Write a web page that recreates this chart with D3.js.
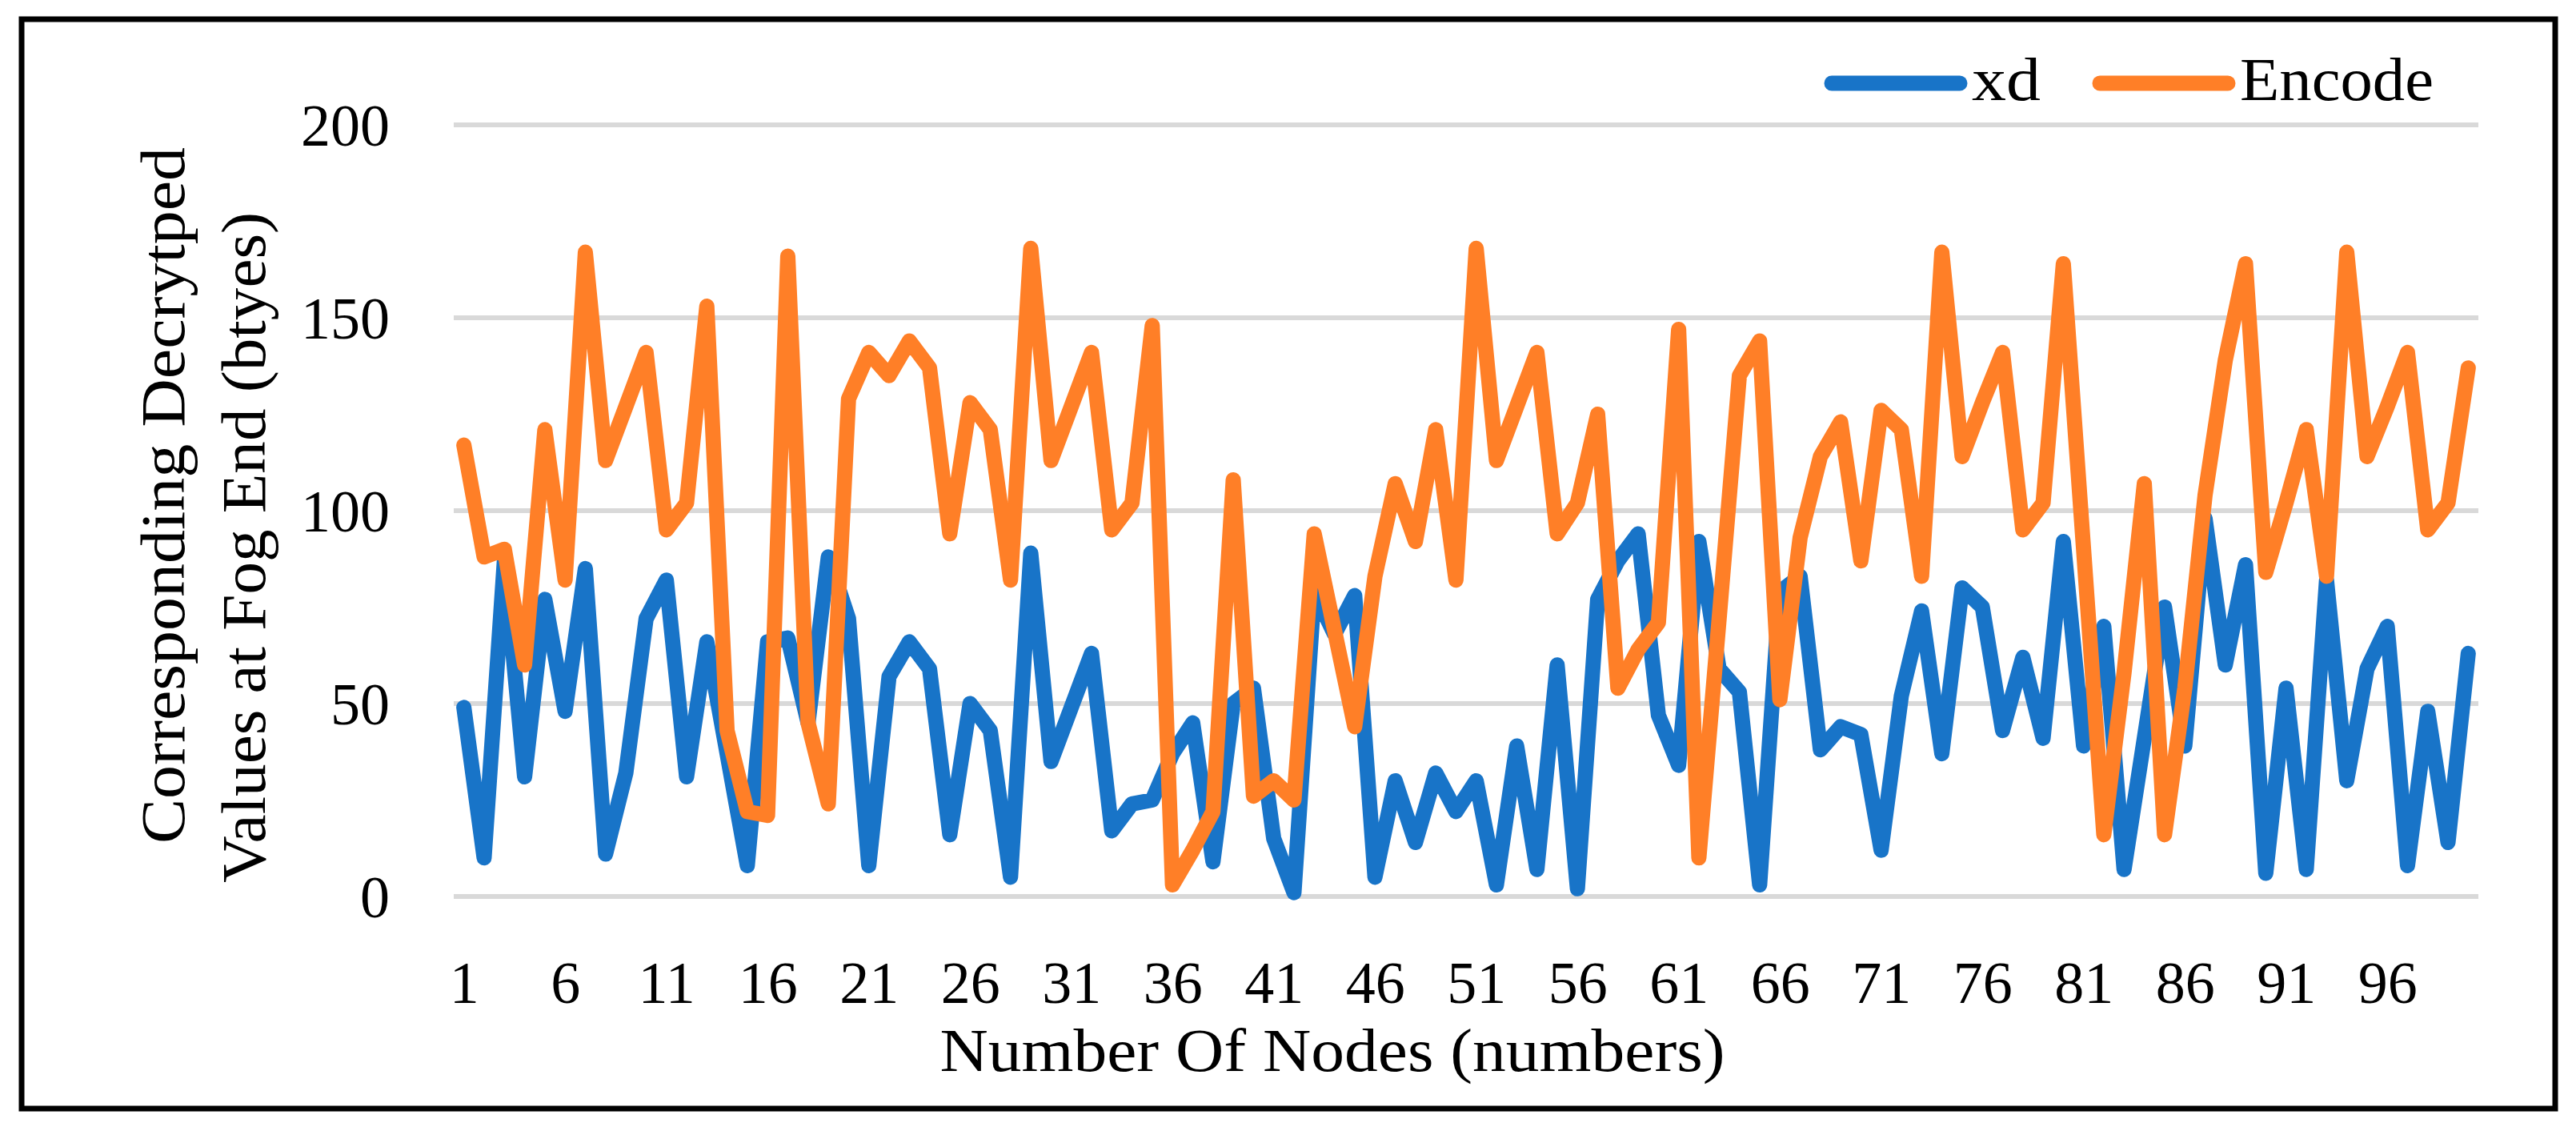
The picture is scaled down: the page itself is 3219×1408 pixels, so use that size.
<!DOCTYPE html>
<html lang="en">
<head>
    <meta charset="UTF-8">
    <title>xd vs Encode</title>
    <script src="https://cdnjs.cloudflare.com/ajax/libs/d3/7.8.5/d3.min.js"></script>
    <style>
        body {
            margin: 0;
            background-color: #fff;
            overflow: hidden;
        }
        text {
            font-family: "Palatino Linotype", "Book Antiqua", Palatino, "Liberation Serif", serif;
            fill: #000;
        }
    </style>
</head>
<body>
    <div id="chart"></div>

    <script>
        // node numbers 1..100
        const nodes = d3.range(1, 101);

        const xd = [
            49, 10, 87, 31, 77, 48, 85, 11, 32, 72,
            82, 31, 66, 37, 8, 66, 67, 45, 88, 72,
            8, 57, 66, 59, 16, 50, 43, 5, 89, 35,
            49, 63, 17, 24, 25, 37, 45, 9, 50, 54,
            15, 1, 79, 68, 78, 5, 30, 14, 32, 22,
            30, 3, 39, 7, 60, 2, 77, 87, 94, 47,
            34, 92, 59, 53, 3, 79, 83, 38, 44, 42,
            12, 52, 74, 37, 80, 75, 43, 62, 41, 92,
            39, 70, 7, 41, 75, 39, 98, 60, 86, 6,
            54, 7, 82, 30, 59, 70, 8, 48, 14, 63
        ];

        const encode = [
            117, 88, 90, 60, 121, 82, 167, 113, 127, 141,
            95, 102, 153, 43, 22, 21, 166, 45, 24, 129,
            141, 135, 144, 137, 94, 128, 121, 82, 168, 113,
            127, 141, 95, 102, 148, 3, 12, 22, 108, 26,
            30, 25, 94, 69, 44, 83, 107, 92, 121, 82,
            168, 113, 127, 141, 94, 102, 125, 54, 64, 71,
            147, 10, 72, 135, 144, 51, 93, 114, 123, 87,
            126, 121, 83, 167, 114, 128, 141, 95, 102, 164,
            90, 16, 58, 107, 16, 54, 104, 139, 164, 84,
            102, 121, 83, 167, 114, 127, 141, 95, 102, 137
        ];

        const yTicks = [0, 50, 100, 150, 200];
        const xTickLabels = nodes.filter(n => (n - 1) % 5 === 0);

        const seriesNames = ["xd", "Encode"];
        const seriesColors = ["#1874c8", "#ff7f27"];

        const width = 3219;
        const height = 1408;

        const svg = d3.select("#chart")
            .append("svg")
            .attr("width", width)
            .attr("height", height);

        // outer frame
        svg.append("rect")
            .attr("x", 27)
            .attr("y", 24)
            .attr("width", 3166)
            .attr("height", 1361)
            .attr("fill", "none")
            .attr("stroke", "#000")
            .attr("stroke-width", 7);

        const x = d3.scalePoint()
            .domain(nodes)
            .range([567, 3097])
            .padding(0.5);

        const y = d3.scaleLinear()
            .domain([0, 200])
            .range([1120, 156]);

        // gridlines
        svg.append("g")
            .selectAll("line")
            .data(yTicks)
            .enter()
            .append("line")
            .attr("x1", 567)
            .attr("x2", 3097)
            .attr("y1", d => y(d))
            .attr("y2", d => y(d))
            .attr("stroke", "#d9d9d9")
            .attr("stroke-width", 6);

        // y axis labels
        const yAxis = d3.axisLeft(y).tickValues(yTicks).tickSize(0).tickPadding(0);
        svg.append("g")
            .attr("transform", "translate(487,0)")
            .call(yAxis)
            .call(g => g.select(".domain").remove())
            .selectAll("text")
            .attr("font-size", 74)
            .attr("dy", "0.34em")
            .style("font-family", null);

        // x axis labels
        const xAxis = d3.axisBottom(x).tickValues(xTickLabels).tickSize(0).tickPadding(0);
        svg.append("g")
            .attr("transform", "translate(0,1253)")
            .call(xAxis)
            .call(g => g.select(".domain").remove())
            .selectAll("text")
            .attr("font-size", 74)
            .attr("dy", 0)
            .attr("y", 0)
            .style("font-family", null);

        // lines
        const line = d3.line()
            .x((d, i) => x(nodes[i]))
            .y(d => y(d));

        [xd, encode].forEach((values, k) => {
            svg.append("path")
                .datum(values)
                .attr("d", line)
                .attr("fill", "none")
                .attr("stroke", seriesColors[k])
                .attr("stroke-width", 19)
                .attr("stroke-linejoin", "round")
                .attr("stroke-linecap", "round");
        });

        // legend (text widths stretched to the Palatino look of the original)
        const legendX = [2289, 2624];
        const legendTextLen = [86, 242];
        const legend = svg.append("g");
        seriesNames.forEach((name, k) => {
            legend.append("line")
                .attr("x1", legendX[k])
                .attr("x2", legendX[k] + 160)
                .attr("y1", 104)
                .attr("y2", 104)
                .attr("stroke", seriesColors[k])
                .attr("stroke-width", 19)
                .attr("stroke-linecap", "round");
            legend.append("text")
                .attr("x", legendX[k] + 175)
                .attr("y", 125)
                .attr("font-size", 76)
                .attr("textLength", legendTextLen[k])
                .attr("lengthAdjust", "spacingAndGlyphs")
                .text(name);
        });

        // axis titles
        svg.append("text")
            .attr("x", 1665)
            .attr("y", 1338)
            .attr("text-anchor", "middle")
            .attr("font-size", 76)
            .attr("textLength", 981)
            .attr("lengthAdjust", "spacingAndGlyphs")
            .text("Number Of Nodes (numbers)");

        svg.append("text")
            .attr("transform", "translate(230,619) rotate(-90)")
            .attr("text-anchor", "middle")
            .attr("font-size", 78)
            .attr("textLength", 870)
            .attr("lengthAdjust", "spacingAndGlyphs")
            .text("Corresponding Decrytped");

        svg.append("text")
            .attr("transform", "translate(331,684) rotate(-90)")
            .attr("text-anchor", "middle")
            .attr("font-size", 78)
            .attr("textLength", 838)
            .attr("lengthAdjust", "spacingAndGlyphs")
            .text("Values at Fog End (btyes)");
    </script>
</body>
</html>
